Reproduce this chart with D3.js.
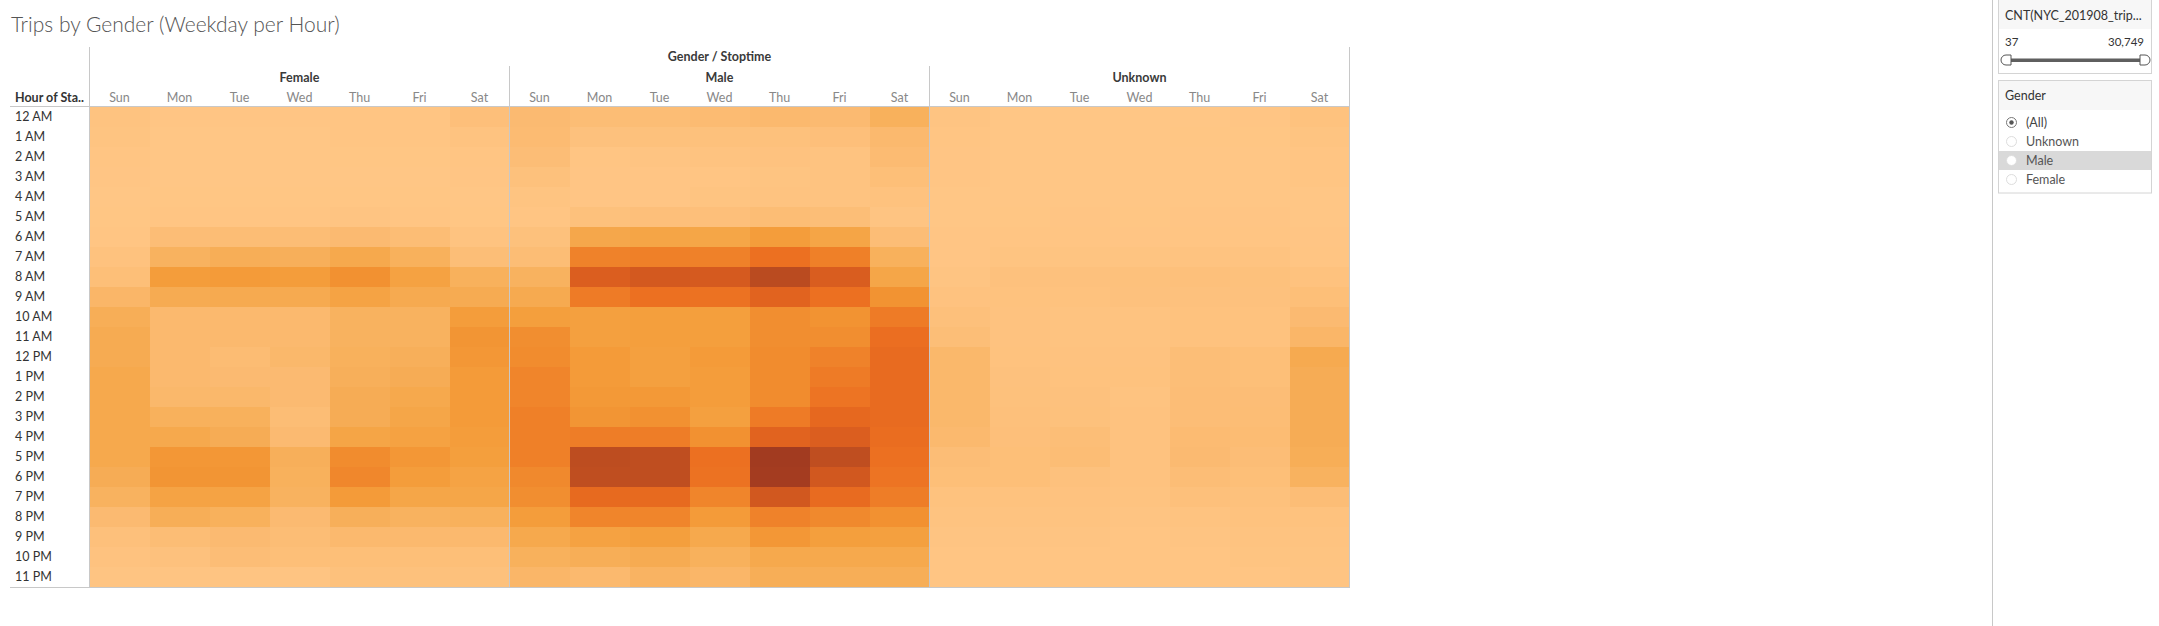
<!DOCTYPE html>
<html>
<head>
<meta charset="utf-8">
<script src="https://cdn.jsdelivr.net/npm/d3@7/dist/d3.min.js"></script>
<style>
  html, body { margin: 0; padding: 0; background: #fff; }
  svg { display: block; font-family: Lato, "Open Sans", sans-serif; }
</style>
</head>
<body>
<svg id="chart" width="2159" height="626"></svg>
<script>
const genders = ["Female", "Male", "Unknown"];
const days = ["Sun", "Mon", "Tue", "Wed", "Thu", "Fri", "Sat"];
const hours = ["12 AM","1 AM","2 AM","3 AM","4 AM","5 AM","6 AM","7 AM","8 AM","9 AM","10 AM","11 AM",
               "12 PM","1 PM","2 PM","3 PM","4 PM","5 PM","6 PM","7 PM","8 PM","9 PM","10 PM","11 PM"];

// trip counts [hour][day Sun..Sat]
const femaleCounts = [
  [805, 191, 191, 191, 406, 406, 1726],
  [590, 98, 98, 98, 344, 344, 805],
  [344, 60, 60, 60, 129, 129, 406],
  [191, 45, 45, 45, 50, 50, 191],
  [110, 120, 125, 118, 130, 128, 105],
  [129, 406, 406, 406, 498, 406, 160],
  [406, 2187, 2340, 2248, 2801, 2340, 805],
  [1112, 4644, 5565, 5258, 6794, 4951, 2033],
  [1880, 9251, 9558, 9251, 11093, 8329, 4951],
  [3722, 6179, 6487, 6487, 8022, 6487, 6179],
  [5565, 3108, 3108, 3108, 4644, 4644, 9251],
  [6179, 3108, 3108, 3108, 4644, 4644, 10479],
  [6179, 3108, 2494, 3415, 4951, 5258, 10172],
  [6794, 3108, 2801, 2801, 5258, 5872, 9558],
  [6794, 3415, 3415, 2801, 5872, 6794, 9558],
  [6794, 4951, 4951, 2340, 5872, 7408, 9558],
  [6794, 6794, 5872, 2801, 7715, 8329, 9251],
  [6794, 10172, 10172, 5258, 11708, 10172, 8943],
  [5872, 10479, 10479, 4951, 12322, 9251, 8022],
  [4644, 8022, 8022, 4644, 9558, 7408, 7408],
  [2801, 5565, 4951, 2801, 5258, 4644, 4951],
  [1573, 2340, 2801, 2340, 3108, 3108, 3108],
  [958, 1265, 2187, 1880, 1880, 1880, 1880],
  [436, 498, 498, 498, 1419, 1419, 1419]
];
const maleCounts = [
  [2801, 2340, 2340, 2648, 3108, 2801, 4951],
  [2648, 1265, 1419, 1419, 1419, 1726, 3108],
  [2187, 406, 498, 805, 958, 805, 2648],
  [1419, 191, 191, 344, 590, 805, 1880],
  [651, 191, 191, 590, 805, 805, 1112],
  [406, 1419, 1726, 1726, 2340, 2033, 498],
  [1419, 7101, 7715, 7561, 9251, 7715, 2187],
  [2340, 12936, 13243, 13090, 15393, 13243, 4951],
  [4644, 18771, 20000, 19693, 23685, 19078, 7408],
  [6487, 13857, 15393, 15086, 17850, 15393, 10786],
  [8943, 8636, 8943, 8943, 11400, 10786, 13857],
  [11400, 8636, 8943, 8943, 11400, 11400, 15700],
  [11708, 9558, 8636, 9558, 11708, 12936, 16314],
  [12629, 9558, 8636, 9251, 11708, 13857, 16314],
  [12629, 9865, 9865, 9251, 11708, 14779, 16314],
  [13243, 10479, 11093, 8636, 13857, 16929, 16314],
  [13243, 13550, 13550, 11093, 17850, 18771, 16007],
  [13243, 23071, 22764, 15393, 30749, 22764, 15393],
  [12015, 22764, 22764, 15086, 29828, 20307, 14779],
  [11400, 16621, 16621, 12629, 20307, 16314, 13550],
  [9251, 12629, 12629, 9558, 12936, 12015, 11093],
  [6794, 8329, 8943, 6794, 10172, 8943, 8636],
  [4951, 5565, 6179, 4951, 6794, 6794, 6794],
  [3722, 3108, 4337, 3722, 5565, 5565, 5565]
];
const unknownCounts = [
  [498, 60, 55, 50, 70, 191, 1112],
  [344, 45, 40, 42, 129, 129, 651],
  [191, 40, 38, 40, 50, 60, 406],
  [191, 37, 40, 40, 45, 50, 283],
  [90, 50, 45, 48, 55, 60, 110],
  [60, 160, 170, 150, 180, 170, 70],
  [191, 344, 344, 191, 406, 406, 191],
  [191, 651, 651, 651, 805, 805, 344],
  [498, 1265, 1265, 1419, 1573, 1419, 1112],
  [958, 1112, 1112, 1265, 1265, 1265, 1880],
  [1573, 958, 805, 805, 1112, 1112, 2801],
  [2033, 958, 805, 805, 1112, 1112, 3722],
  [3415, 1112, 958, 958, 2033, 1880, 6487],
  [3415, 1265, 1112, 1112, 2033, 1880, 5872],
  [3415, 1419, 1265, 805, 2187, 2187, 5872],
  [3415, 1573, 1419, 958, 2187, 2340, 5872],
  [3108, 1726, 2033, 958, 2648, 2494, 5872],
  [2187, 1880, 2340, 958, 2801, 2187, 5565],
  [1880, 1880, 1265, 958, 2187, 1880, 4644],
  [1112, 1112, 958, 805, 1573, 1419, 2187],
  [805, 805, 805, 498, 805, 1112, 1112],
  [498, 498, 498, 344, 498, 805, 805],
  [344, 344, 344, 283, 344, 651, 651],
  [283, 283, 283, 283, 344, 406, 498]
];
const countsByGender = { Female: femaleCounts, Male: maleCounts, Unknown: unknownCounts };
const minCount = 37, maxCount = 30749;
const filterItems = ["(All)", "Unknown", "Male", "Female"];

// colour ramp (Tableau-like orange sequential)
const rampStops = [0, .05, .10, .15, .20, .25, .30, .35, .40, .45, .50, .55, .60, .65, .70, .75, .80, .90, 1];
const rampColors = ["#ffc685","#fdc07b","#fbb96e","#f8b25f","#f6ab52","#f5a546","#f49d3b","#f29332","#f0872c",
                    "#ee7b26","#ec7021","#e6681f","#dd5f1f","#d3591f","#c85320","#bd4d20","#b54820","#a94020","#a23b20"];
const color = d3.scaleLinear()
  .domain(rampStops.map(t => minCount + t * (maxCount - minCount)))
  .range(rampColors)
  .interpolate(d3.interpolateRgb)
  .clamp(true);

const svg = d3.select("#chart");
const gridLeft = 89.5, gridRight = 1349.5, gridTop = 107, gridBottom = 587;

const xG = d3.scaleBand().domain(genders).range([gridLeft, gridRight]);
const xD = d3.scaleBand().domain(days).range([0, xG.bandwidth()]);
const y = d3.scaleBand().domain(hours).range([gridTop, gridBottom]);

// cells
const cells = [];
genders.forEach(g => hours.forEach((h, hi) => days.forEach((d, di) => {
  cells.push({ g, h, d, v: countsByGender[g][hi][di] });
})));
svg.append("g").selectAll("rect").data(cells).join("rect")
  .attr("x", d => xG(d.g) + xD(d.d))
  .attr("y", d => y(d.h))
  .attr("width", xD.bandwidth() + 0.5)
  .attr("height", y.bandwidth() + 0.5)
  .attr("fill", d => color(d.v))
  .attr("shape-rendering", "crispEdges");

// lines
const lineColor = "#c8c8c8";
const lines = svg.append("g").attr("stroke", lineColor).attr("stroke-width", 1).attr("shape-rendering", "crispEdges");
lines.append("line").attr("x1", gridLeft).attr("x2", gridLeft).attr("y1", 47).attr("y2", gridBottom + 1);
lines.append("line").attr("x1", gridRight).attr("x2", gridRight).attr("y1", 47).attr("y2", gridBottom + 1);
genders.slice(1).forEach(g => {
  lines.append("line").attr("x1", xG(g)).attr("x2", xG(g)).attr("y1", 66).attr("y2", gridBottom + 1);
});
lines.append("line").attr("x1", 10).attr("x2", gridRight).attr("y1", gridTop - 0.5).attr("y2", gridTop - 0.5);
lines.append("line").attr("x1", 10).attr("x2", gridRight).attr("y1", gridBottom + 0.5).attr("y2", gridBottom + 0.5);

// title
svg.append("text").attr("x", 11).attr("y", 32)
  .attr("font-size", 21).attr("font-weight", 300).attr("fill", "#555")
  .text("Trips by Gender (Weekday per Hour)");

// headers
svg.append("text").attr("x", (gridLeft + gridRight) / 2).attr("y", 61)
  .attr("text-anchor", "middle").attr("font-size", 12.5).attr("font-weight", 700).attr("fill", "#3a3a3a")
  .text("Gender / Stoptime");
svg.append("g").selectAll("text").data(genders).join("text")
  .attr("x", g => xG(g) + xG.bandwidth() / 2).attr("y", 82)
  .attr("text-anchor", "middle").attr("font-size", 12.5).attr("font-weight", 700).attr("fill", "#3a3a3a")
  .text(g => g);
const dayLabels = [];
genders.forEach(g => days.forEach(d => dayLabels.push({ g, d })));
svg.append("g").selectAll("text").data(dayLabels).join("text")
  .attr("x", d => xG(d.g) + xD(d.d) + xD.bandwidth() / 2).attr("y", 102)
  .attr("text-anchor", "middle").attr("font-size", 12.5).attr("fill", "#888")
  .text(d => d.d);
svg.append("text").attr("x", 15).attr("y", 102)
  .attr("font-size", 12.5).attr("font-weight", 700).attr("fill", "#333")
  .text("Hour of Sta..");

// row labels
svg.append("g").selectAll("text").data(hours).join("text")
  .attr("x", 15).attr("y", h => y(h) + y.bandwidth() / 2 + 4)
  .attr("font-size", 12.5).attr("fill", "#333")
  .text(h => h);

// right panel
svg.append("line").attr("x1", 1992.5).attr("x2", 1992.5).attr("y1", 0).attr("y2", 626)
  .attr("stroke", "#c8c8c8").attr("shape-rendering", "crispEdges");

// slider card
const p1 = svg.append("g");
p1.append("rect").attr("x", 1998.5).attr("y", -1).attr("width", 153).attr("height", 74.5)
  .attr("fill", "#fff").attr("stroke", "#d4d4d4");
p1.append("rect").attr("x", 1999).attr("y", 0).attr("width", 152).attr("height", 29).attr("fill", "#f7f7f7");
p1.append("text").attr("x", 2005).attr("y", 20).attr("font-size", 12.5).attr("fill", "#333")
  .text("CNT(NYC_201908_trip...");
p1.append("text").attr("x", 2005).attr("y", 46).attr("font-size", 11.5).attr("fill", "#333")
  .text(d3.format(",")(minCount));
p1.append("text").attr("x", 2144).attr("y", 46).attr("text-anchor", "end").attr("font-size", 11.5).attr("fill", "#333")
  .text(d3.format(",")(maxCount));
const sx = d3.scaleLinear().domain([minCount, maxCount]).range([2008, 2143]);
p1.append("rect").attr("x", sx(minCount)).attr("y", 58.5).attr("width", sx(maxCount) - sx(minCount)).attr("height", 3.5)
  .attr("fill", "#5f5f5f");
p1.append("path").attr("d", `M${sx(minCount) + 3},55 L${sx(minCount) - 2},55 A5,5 0 0 0 ${sx(minCount) - 2},65 L${sx(minCount) + 3},65 Z`)
  .attr("fill", "#fff").attr("stroke", "#555");
p1.append("path").attr("d", `M${sx(maxCount) - 3},55 L${sx(maxCount) + 2},55 A5,5 0 0 1 ${sx(maxCount) + 2},65 L${sx(maxCount) - 3},65 Z`)
  .attr("fill", "#fff").attr("stroke", "#555");

// gender filter card
const p2 = svg.append("g");
p2.append("rect").attr("x", 1998.5).attr("y", 80.5).attr("width", 153).attr("height", 112.5)
  .attr("fill", "#fff").attr("stroke", "#d4d4d4");
p2.append("rect").attr("x", 1999).attr("y", 81).attr("width", 152).attr("height", 29).attr("fill", "#f7f7f7");
p2.append("text").attr("x", 2005).attr("y", 100).attr("font-size", 12.5).attr("fill", "#333").text("Gender");
const fy = d3.scaleBand().domain(filterItems).range([113, 189]);
p2.append("rect").attr("x", 1999).attr("y", fy("Male")).attr("width", 152).attr("height", fy.bandwidth())
  .attr("fill", "#d9d9d9");
const items = p2.append("g").selectAll("g").data(filterItems).join("g");
items.append("circle").attr("cx", 2011.5).attr("cy", f => fy(f) + fy.bandwidth() / 2).attr("r", 5)
  .attr("fill", "#fff").attr("stroke", f => f === "(All)" ? "#777" : "#ddd");
items.filter(f => f === "(All)").append("circle").attr("cx", 2011.5).attr("cy", f => fy(f) + fy.bandwidth() / 2)
  .attr("r", 2.2).attr("fill", "#555");
items.append("text").attr("x", 2026).attr("y", f => fy(f) + fy.bandwidth() / 2 + 4)
  .attr("font-size", 12.5).attr("fill", f => f === "(All)" ? "#444" : "#555").text(f => f);
</script>
</body>
</html>
